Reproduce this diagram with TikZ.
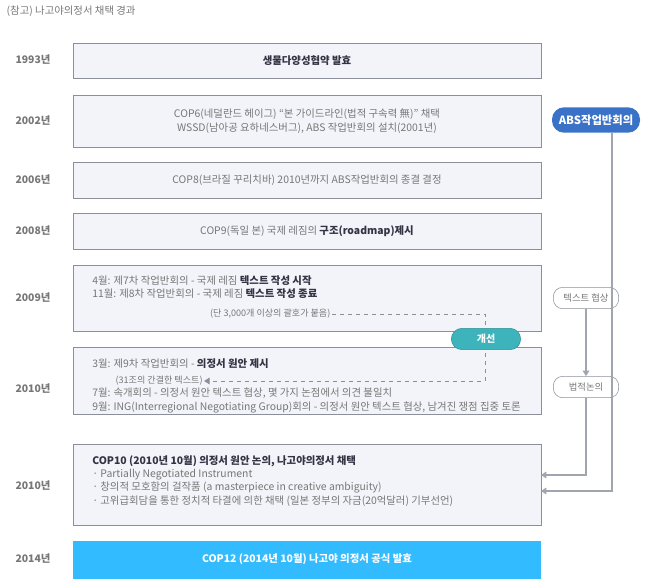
\documentclass[tikz,border=0pt]{standalone}
\usepackage{fontspec}
\setmainfont{Noto Sans CJK KR}
\usetikzlibrary{arrows.meta}
\definecolor{boxbd}{HTML}{8A8F99}
\definecolor{boxbg}{HTML}{F2F4F9}
\definecolor{txt}{HTML}{777777}
\definecolor{dark}{HTML}{333344}
\definecolor{blue1}{HTML}{33BBFF}
\definecolor{abs}{HTML}{3A72C8}
\definecolor{teal1}{HTML}{3DB3BC}
\tikzset{x=0.75pt,y=-0.75pt,
 yearbox/.style={draw=boxbd,fill=boxbg,line width=0.6pt},
 yr/.style={font=\fontsize{7.8}{9}\selectfont\bfseries,text=txt},
 bt/.style={font=\fontsize{7.8}{10}\selectfont,text=txt,align=center},
 lt/.style={font=\fontsize{7.8}{10}\selectfont,text=txt,align=left,anchor=north west,inner sep=0},
 pill/.style={draw=boxbd,fill=white,rounded corners=7pt,minimum width=49pt,minimum height=16pt,font=\fontsize{7}{8}\selectfont,text=txt},
 conn/.style={draw=boxbd!80,line width=0.8pt,-{Triangle[length=4pt,width=5pt]}},
}
\begin{document}
\begin{tikzpicture}
\useasboundingbox (0,0) rectangle (663,579);
\node[anchor=west,font=\fontsize{7.8}{8}\selectfont,text=txt] (title) at (2,11) {(참고) 나고야의정서 채택 경과};
% boxes
\draw[yearbox] (73,43) rectangle (541,78); \node[bt,text=dark] (b1) at (307,60.5) {\bfseries 생물다양성협약 발효};
\draw[yearbox] (73,95) rectangle (541,147); \node[bt] (b2) at (307,121) {COP6(네덜란드 헤이그) “본 가이드라인(법적 구속력 無)” 채택\\WSSD(남아공 요하네스버그), ABS 작업반회의 설치(2001년)};
\draw[yearbox] (73,162) rectangle (541,198); \node[bt] (b3) at (307,180) {COP8(브라질 꾸리치바) 2010년까지 ABS작업반회의 종결 결정};
\draw[yearbox] (73,213) rectangle (541,249); \node[bt] (b4) at (307,231) {COP9(독일 본) 국제 레짐의 \textcolor{dark}{\bfseries 구조(roadmap)제시}};
\draw[yearbox] (73,265) rectangle (541,331);
\node[lt] (b5) at (92,275) {4월: 제7차 작업반회의 - 국제 레짐 \textcolor{dark}{\bfseries 텍스트 작성 시작}\\11월: 제8차 작업반회의 - 국제 레짐 \textcolor{dark}{\bfseries 텍스트 작성 종료}};
\node[font=\fontsize{6.8}{8}\selectfont,text=txt,anchor=east,inner sep=1pt] (b5n) at (332,314) {(단 3,000개 이상의 괄호가 붙음)};
\draw[yearbox] (73,347) rectangle (541,414);
\node[lt] (b6a) at (92,358) {3월: 제9차 작업반회의 - \textcolor{dark}{\bfseries 의정서 원안 제시}};
\node[font=\fontsize{6.8}{8}\selectfont,text=txt,anchor=west,inner sep=1pt] (b6n) at (114,381) {(31조의 간결한 텍스트)};
\node[lt] (b6b) at (92,388) {7월: 속개회의 - 의정서 원안 텍스트 협상, 몇 가지 논점에서 의견 불일치\\9월: ING(Interregional Negotiating Group)회의 - 의정서 원안 텍스트 협상, 남겨진 쟁점 집중 토론};
\draw[yearbox] (73,444) rectangle (541,525);
\node[lt] (b7) at (92,455) {\textcolor{dark}{\bfseries COP10 (2010년 10월) 의정서 원안 논의, 나고야의정서 채택}\\ · Partially Negotiated Instrument\\ · 창의적 모호함의 걸작품 (a masterpiece in creative ambiguity)\\ · 고위급회담을 통한 정치적 타결에 의한 채택 (일본 정부의 자금(20억달러) 기부선언)};
\fill[blue1] (73,541) rectangle (541,579);
\node[bt,text=white] (b8) at (307,559) {\bfseries COP12 (2014년 10월) 나고야 의정서 공식 발효};
% years
\foreach \y/\t/\n in {60/1993년/y1,121/2002년/y2,180/2006년/y3,231/2008년/y4,298/2009년/y5,389/2010년/y6,486/2010년/y7,559/2014년/y8}
  \node[yr] (\n) at (33,\y) {\t};
% right side
\node[fill=abs,rounded corners=9pt,minimum width=66pt,minimum height=19pt,text=white,font=\fontsize{8.5}{9}\selectfont\bfseries] (abs) at (596,120) {ABS작업반회의};
\node[pill] (tn) at (586,298) {텍스트 협상};
\node[pill] (lg) at (586,387) {법적논의};
\coordinate (r1) at (541,491);
\coordinate (r2) at (541,475);
\draw[conn] (abs.south -| 612,0) |- (r1);
\draw[conn] (tn) -- (lg);
\draw[conn] (lg) |- (r2);
\coordinate (dA) at (485,314);
\draw[boxbd,dashed,line width=0.6pt,-{Triangle[length=4pt,width=5pt]}] (b5n.east) -- (dA) |- (b6n.east);
\node[fill=teal1,draw=teal1!80!black,rounded corners=8pt,minimum width=52pt,minimum height=16pt,text=white,font=\fontsize{7.5}{8}\selectfont\bfseries] (imp) at (486,339) {개선};
\end{tikzpicture}
\end{document}
